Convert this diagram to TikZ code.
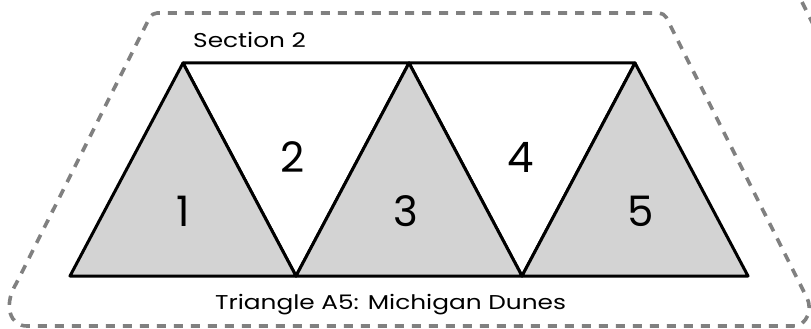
\documentclass[tikz,border=0pt]{standalone}
\usepackage{fontspec}
\setmainfont{Poppins}
\newfontfamily\capfont[FakeStretch=1.24]{Poppins}
\usepackage{xcolor}
\definecolor{tri}{HTML}{D3D3D3}
\definecolor{outl}{HTML}{808080}

\begin{document}
\begin{tikzpicture}[x=1pt, y=-1pt,
    gray tri/.style={draw=black, line width=3pt, line join=round, fill=tri},
    white tri/.style={draw=black, line width=3pt, line join=round, fill=white},
    outline/.style={draw=outl, line width=3.6pt, dash pattern=on 9pt off 8pt},
    num/.style={font=\fontsize{42}{42}\selectfont},
    caption/.style={font=\capfont\fontsize{20}{20}\selectfont}]
    \useasboundingbox (0,0) rectangle (811,329);
    \clip (0,0) rectangle (811,329);

    % Dashed outline
    \draw[outline, rounded corners=5pt] (400,13) -- (664,13) -- (805,294) .. controls (812,308) and (808,326) .. (788,326) -- (32,326) .. controls (10,326) and (4,306) .. (17,282) -- (152,13) -- cycle;
    \draw[outline] (802,2) -- (840,78);

    % Corner points
    \coordinate (b1) at (70,276);
    \coordinate (b2) at (296,276);
    \coordinate (b3) at (522,276);
    \coordinate (b4) at (748,276);
    \coordinate (t1) at (183,63);
    \coordinate (t2) at (409,63);
    \coordinate (t3) at (635,63);

    % Triangles
    \draw[white tri] (t1) -- (t2) -- (b2) -- cycle;
    \draw[white tri] (t2) -- (t3) -- (b3) -- cycle;
    \draw[gray tri] (b1) -- (t1) -- (b2) -- cycle;
    \draw[gray tri] (b2) -- (t2) -- (b3) -- cycle;
    \draw[gray tri] (b3) -- (t3) -- (b4) -- cycle;

    % Numbers
    \node[num] (n1) at (183,211) {1};
    \node[num] (n2) at (293,157) {2};
    \node[num] (n3) at (406,211) {3};
    \node[num] (n4) at (521,157) {4};
    \node[num] (n5) at (641,211) {5};

    % Labels
    \node[caption, anchor=base west, inner sep=0pt] (sec) at (193,48) {Section 2};
    \node[caption, anchor=base west, inner sep=0pt] (name) at (215,309) {Triangle A5: Michigan Dunes};
\end{tikzpicture}
\end{document}
